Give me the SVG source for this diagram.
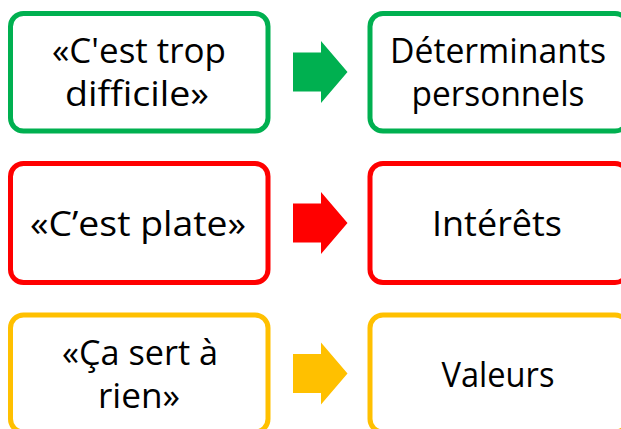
<svg xmlns="http://www.w3.org/2000/svg" width="621" height="429" viewBox="0 0 621 429">
<style>
.box{fill:#FFFFFF;stroke-width:5}
.g{stroke:#00B050}.r{stroke:#FF0000}.y{stroke:#FFC000}
.gf{fill:#00B050}.rf{fill:#FF0000}.yf{fill:#FFC000}
text{font-family:"Open Sans","Noto Sans","DejaVu Sans",sans-serif;font-size:35px;fill:#000000;text-anchor:middle}
</style>
<defs>
<path id="arr" d="M293,-19.5 H321 V-31 L347.5,0 L321,31 V19.5 H293 Z"/>
</defs>
<rect width="621" height="429" fill="#FFFFFF"/>
<g id="connectors">
<use href="#arr" class="gf" transform="translate(0,72)"/>
<use href="#arr" class="rf" transform="translate(0,223)"/>
<use href="#arr" class="yf" transform="translate(0,373.5)"/>
</g>
<g id="n1">
<rect class="box g" x="10.5" y="13.5" width="257.5" height="117.5" rx="13"/>
<text x="139" y="63" textLength="174" lengthAdjust="spacingAndGlyphs">«C'est trop</text>
<text x="137" y="106" textLength="144" lengthAdjust="spacingAndGlyphs">difficile»</text>
</g>
<g id="n2">
<rect class="box g" x="370" y="13.5" width="258" height="117.5" rx="13"/>
<text x="498" y="63" textLength="216" lengthAdjust="spacingAndGlyphs">Déterminants</text>
<text x="498" y="106" textLength="173" lengthAdjust="spacingAndGlyphs">personnels</text>
</g>
<g id="n3">
<rect class="box r" x="10.5" y="163.5" width="257.5" height="119" rx="13"/>
<text x="138" y="236" textLength="216" lengthAdjust="spacingAndGlyphs">«C’est plate»</text>
</g>
<g id="n4">
<rect class="box r" x="370" y="163.5" width="258" height="119" rx="13"/>
<text x="497" y="236" textLength="130" lengthAdjust="spacingAndGlyphs">Intérêts</text>
</g>
<g id="n5">
<rect class="box y" x="10.5" y="315" width="257.5" height="117" rx="13"/>
<text x="140" y="365" textLength="156" lengthAdjust="spacingAndGlyphs">«Ça sert à</text>
<text x="139" y="408" textLength="82" lengthAdjust="spacingAndGlyphs">rien»</text>
</g>
<g id="n6">
<rect class="box y" x="370" y="315" width="258" height="117" rx="13"/>
<text x="498" y="386.5" textLength="113" lengthAdjust="spacingAndGlyphs">Valeurs</text>
</g>
</svg>
